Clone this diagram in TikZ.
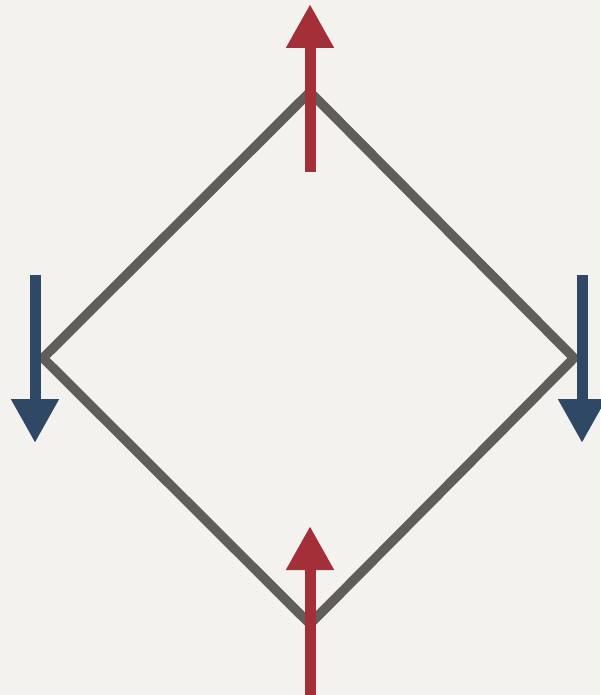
\documentclass[tikz,border=0pt]{standalone}
\usepackage{tikz}
\usetikzlibrary{arrows.meta}

\definecolor{paper}{HTML}{F4F2EE}
\definecolor{edgegrey}{HTML}{5F5E5A}
\definecolor{upred}{HTML}{A33038}
\definecolor{downblue}{HTML}{2E4866}

\begin{document}
\begin{tikzpicture}[x=1pt, y=-1pt,
					edge/.style={draw=edgegrey, line width=9.5pt, line join=miter},
					uparrow/.style={draw=upred, line width=11pt, -{Triangle[length=44pt, width=45pt]}},
					downarrow/.style={draw=downblue, line width=11pt, -{Triangle[length=44pt, width=45pt]}}
					]
					
					% Background
					\fill[paper] (0,0) rectangle (600,695);
					\useasboundingbox (0,0) rectangle (600,695);
					
					% Diamond corners
					\coordinate (top) at (310,92);
					\coordinate (left) at (43,358);
					\coordinate (right) at (574,358);
					\coordinate (bottom) at (310,624);
					
					% Arrow ends
					\coordinate (topstart) at (310,172);
					\coordinate (topend) at (310,4);
					\coordinate (bottomstart) at (310,700);
					\coordinate (bottomend) at (310,526);
					\coordinate (leftstart) at (35,275);
					\coordinate (leftend) at (35,443);
					\coordinate (rightstart) at (582,275);
					\coordinate (rightend) at (582,443);
					
					% Diamond
					\draw[edge] (top) -- (right) -- (bottom) -- (left) -- cycle;
					
					% Arrows
					\draw[uparrow] (topstart) -- (topend);
					\draw[uparrow] (bottomstart) -- (bottomend);
					\draw[downarrow] (leftstart) -- (leftend);
					\draw[downarrow] (rightstart) -- (rightend);
					
				\end{tikzpicture}
\end{document}
